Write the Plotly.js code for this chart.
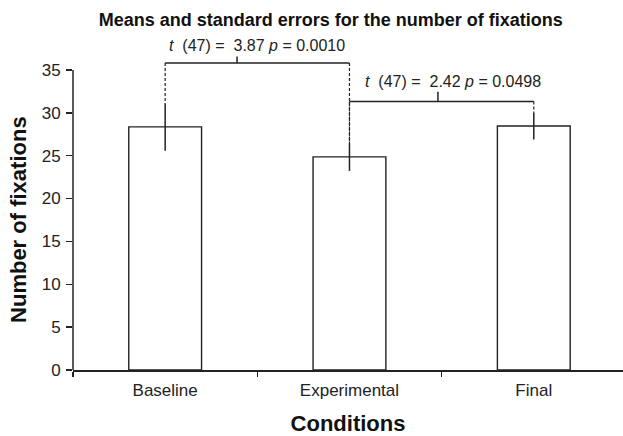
<!DOCTYPE html>
<html>
<head>
<meta charset="utf-8">
<script src="https://cdn.plot.ly/plotly-3.0.1.min.js"></script>
<style>html,body{margin:0;padding:0;background:#fff;}#chart{width:623px;height:436px;}</style>
</head>
<body>
<div id="chart"></div>
<script>
// ---- data ----
const categories = ['Baseline', 'Experimental', 'Final'];
const means = [28.35, 24.85, 28.45];
const stdErrors = [2.77, 1.63, 1.58];
const yTicks = [0, 5, 10, 15, 20, 25, 30, 35];
// pairwise comparisons (category indices), bracket heights, statistics
const compFrom = [0, 1];
const compTo = [1, 2];
const bracketY = [35.8, 31.3];
const degreesFreedom = [47, 47];
const tValues = ['3.87', '2.42'];
const pValues = ['0.0010', '0.0498'];

// ---- styling ----
const ink = '#222';
const font = 'Liberation Sans, Arial, Helvetica, sans-serif';
const tickMarkOffset = [-0.11, -0.02];   // where the small tick sits on each bracket
const tickMarkHeight = [0.75, 1.15];
const labelOffsetX = [0, 0.06];
const labelOffsetY = [2.0, 2.4];

const traces = [{
  type: 'bar',
  x: categories,
  y: means,
  width: 0.395,
  marker: {color: '#ffffff', line: {color: ink, width: 1.4}},
  error_y: {type: 'data', array: stdErrors, visible: true, width: 0, thickness: 1.5, color: ink},
  hoverinfo: 'x+y'
}];

const shapes = [];
const annotations = [];
for (let i = 0; i < compFrom.length; i++) {
  const a = compFrom[i], b = compTo[i], h = bracketY[i];
  // horizontal bracket
  shapes.push({type: 'line', xref: 'x', yref: 'y', x0: a, x1: b, y0: h, y1: h, line: {color: ink, width: 1.5}});
  // dashed drops to the error bar tops
  shapes.push({type: 'line', xref: 'x', yref: 'y', x0: a, x1: a, y0: h, y1: means[a] + stdErrors[a], line: {color: ink, width: 1.2, dash: '3px,2px'}});
  shapes.push({type: 'line', xref: 'x', yref: 'y', x0: b, x1: b, y0: h, y1: means[b] + stdErrors[b], line: {color: ink, width: 1.2, dash: '3px,2px'}});
  // small tick on top of bracket
  const mid = (a + b) / 2 + tickMarkOffset[i];
  shapes.push({type: 'line', xref: 'x', yref: 'y', x0: mid, x1: mid, y0: h, y1: h + tickMarkHeight[i], line: {color: ink, width: 1.5}});
  annotations.push({
    xref: 'x', yref: 'y', x: (a + b) / 2 + labelOffsetX[i], y: h + labelOffsetY[i],
    text: '<i>t</i>  (' + degreesFreedom[i] + ') =  ' + tValues[i] + ' <i>p</i> = ' + pValues[i],
    showarrow: false, xanchor: 'center', yanchor: 'middle',
    font: {family: font, size: 16, color: ink}
  });
}
// y axis line from 0 to 35 only
shapes.push({type: 'line', xref: 'paper', yref: 'y', x0: 0, x1: 0, y0: 0, y1: yTicks[yTicks.length - 1], line: {color: ink, width: 1.5}});
// y axis title
annotations.push({
  xref: 'paper', yref: 'y', x: 0, y: yTicks[yTicks.length - 1] / 2, xshift: -54,
  text: 'Number of fixations', textangle: -90, showarrow: false,
  xanchor: 'center', yanchor: 'middle',
  font: {family: font, size: 22, color: '#111', weight: 'bold'}
});

const layout = {
  width: 623, height: 436,
  margin: {l: 73, r: 0, t: 27, b: 66},
  paper_bgcolor: '#fff', plot_bgcolor: '#fff',
  showlegend: false,
  font: {family: font, color: ink},
  title: {
    text: '<b>Means and standard errors for the number of fixations</b>',
    font: {family: font, size: 18, color: '#111'},
    xref: 'container', yref: 'container', x: 0.531, xanchor: 'center', y: 0.955, yanchor: 'middle'
  },
  xaxis: {
    type: 'category',
    range: [-0.5, 2.484],
    tickson: 'boundaries',
    ticks: 'outside', ticklen: 5, tickwidth: 1.5, tickcolor: ink,
    ticklabelstandoff: 4,
    showline: true, linecolor: ink, linewidth: 1.5,
    showgrid: false, zeroline: false,
    tickfont: {family: font, size: 17, color: ink},
    title: {text: '<b>Conditions</b>', font: {family: font, size: 22, color: '#111'}, standoff: 20}
  },
  yaxis: {
    range: [0, 40],
    tickmode: 'array', tickvals: yTicks,
    ticks: 'outside', ticklen: 6, tickwidth: 1.5, tickcolor: ink,
    ticklabelstandoff: 2,
    showline: false, showgrid: false, zeroline: false,
    tickfont: {family: font, size: 17, color: ink}
  },
  shapes: shapes,
  annotations: annotations
};

Plotly.newPlot('chart', traces, layout, {displayModeBar: false, staticPlot: true});
</script>
</body>
</html>
